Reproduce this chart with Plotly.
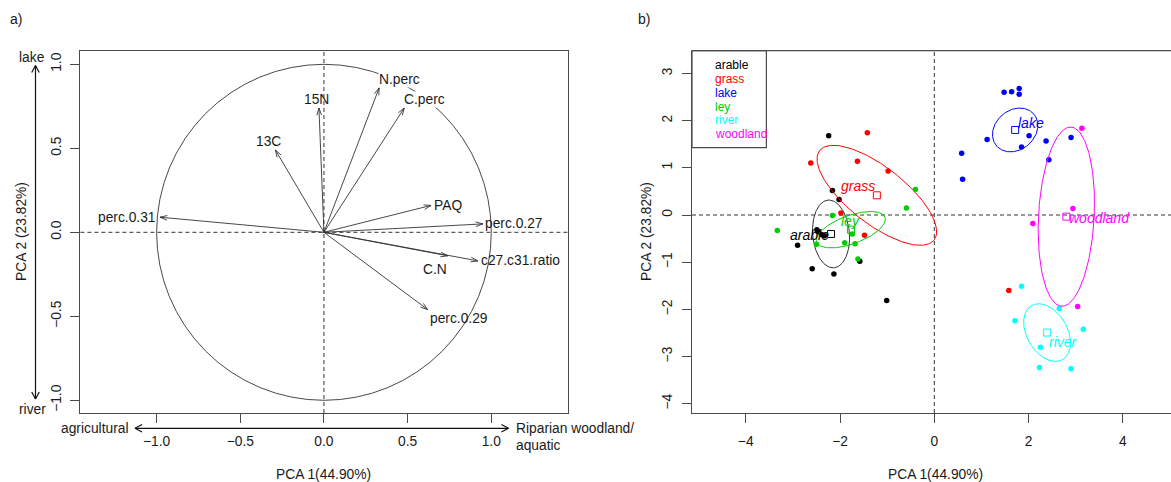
import numpy as np
import plotly.graph_objects as go

W, H = 1171, 482

# ---------------- panel a) : correlation circle ----------------
var_names = ["N.perc", "C.perc", "15N", "13C", "PAQ", "perc.0.27",
             "perc.0.31", "C.N", "c27.c31.ratio", "perc.0.29"]
var_pc1 = [0.33, 0.48, -0.03, -0.29, 0.64, 0.95, -0.98, 0.74, 0.92, 0.62]
var_pc2 = [0.86, 0.74, 0.74, 0.49, 0.16, 0.05, 0.09, -0.14, -0.17, -0.46]

# ---------------- panel b) : PCA scores by class ----------------
groups = ["arable", "grass", "lake", "ley", "river", "woodland"]
group_colors = ["#000000", "#FF0000", "#0000FF", "#00CD00", "#00FFFF", "#FF00FF"]

arable_x = [-2.24, -2.16, -2.02, -2.49, -2.45, -2.38, -2.33, -2.90, -1.58, -2.59, -2.13, -1.01]
arable_y = [1.68, 0.52, 0.33, -0.31, -0.36, -0.42, -0.44, -0.64, -0.98, -1.14, -1.25, -1.81]
grass_x = [-1.42, -2.62, -1.63, -0.98, -1.98, -1.48, 1.58]
grass_y = [1.74, 1.10, 1.14, 0.93, 0.04, -0.43, -1.60]
lake_x = [1.48, 1.64, 1.80, 1.80, 1.12, 2.01, 1.85, 2.37, 2.90, 2.43, 0.58, 0.60]
lake_y = [2.60, 2.61, 2.68, 2.56, 1.60, 1.68, 1.44, 1.57, 1.64, 1.17, 1.31, 0.76]
ley_x = [-0.40, -0.59, -2.16, -1.74, -3.33, -2.50, -1.90, -1.68, -1.62]
ley_y = [0.54, 0.15, -0.01, -0.40, -0.33, -0.62, -0.59, -0.61, -0.93]
river_x = [1.85, 2.65, 1.71, 3.16, 2.25, 2.23, 2.90]
river_y = [-1.51, -1.98, -2.24, -2.42, -2.80, -3.23, -3.26]
woodland_x = [3.13, 2.94, 2.09, 3.04]
woodland_y = [1.84, 0.14, -0.18, -1.94]

# ellipse semi-axes and orientation (degrees)
ell_a = [0.72, 1.54, 0.52, 0.77, 0.66, 1.90]
ell_b = [0.39, 0.60, 0.42, 0.30, 0.43, 0.59]
ell_angle = [95, -38, 40, 20, 120, 87]

group_x = [arable_x, grass_x, lake_x, ley_x, river_x, woodland_x]
group_y = [arable_y, grass_y, lake_y, ley_y, river_y, woodland_y]

x_ticks_a = [-1.0, -0.5, 0.0, 0.5, 1.0]
y_ticks_a = [-1.0, -0.5, 0.0, 0.5, 1.0]
x_ticks_b = [-4, -2, 0, 2, 4]
y_ticks_b = [-4, -3, -2, -1, 0, 1, 2, 3]

# ---------------- styling / layout helpers ----------------
FONT = "Liberation Sans, Arial, Helvetica, sans-serif"
FS = 13.8
AX = "#4a4a4a"
TXT = "#1a1a1a"


def pxx(x):
    return x / W


def pyy(y):
    return 1 - y / H


box_top, box_bot = 50.7, 413.0
dom_y = [pyy(box_bot), pyy(box_top)]
dom_xa = [pxx(80.4), pxx(567.5)]
dom_xb = [pxx(692.0), 1.0]

fig = go.Figure()

# ---- panel a: arrows ----
lx, ly = [], []
hx, hy = [], []
head = 0.045
ang = np.deg2rad(18)
for x1, y1 in zip(var_pc1, var_pc2):
    lx += [0, x1, None]
    ly += [0, y1, None]
    t = np.arctan2(y1, x1)
    for s in (1, -1):
        hx += [x1, x1 - head * np.cos(t + s * ang), None]
        hy += [y1, y1 - head * np.sin(t + s * ang), None]
fig.add_trace(go.Scatter(x=lx, y=ly, mode="lines", line=dict(color="#333333", width=0.9),
                         hoverinfo="skip", showlegend=False, xaxis="x", yaxis="y"))
fig.add_trace(go.Scatter(x=hx, y=hy, mode="lines", line=dict(color="#333333", width=0.9),
                         hoverinfo="skip", showlegend=False, xaxis="x", yaxis="y"))

# label anchors per variable (xanchor, yanchor, xshift, yshift, white background)
lab_style = {
    "N.perc": ("left", "bottom", -1, 0, True),
    "C.perc": ("left", "bottom", -1, 0, True),
    "15N": ("center", "bottom", -2, 0, False),
    "13C": ("center", "bottom", -7, 0, False),
    "PAQ": ("left", "middle", 2, 0, False),
    "perc.0.27": ("left", "middle", 1, 0, False),
    "perc.0.31": ("right", "middle", -3, 0, False),
    "C.N": ("right", "top", 0, -5, False),
    "c27.c31.ratio": ("left", "middle", 2, 0, False),
    "perc.0.29": ("left", "top", 1, 0, False),
}
annotations = []
for name, x1, y1 in zip(var_names, var_pc1, var_pc2):
    xa, ya, xs, ys, bg = lab_style[name]
    annotations.append(dict(x=x1, y=y1, xref="x", yref="y", text=name, showarrow=False,
                            xanchor=xa, yanchor=ya, xshift=xs, yshift=ys,
                            bgcolor="white" if bg else "rgba(0,0,0,0)", borderpad=0,
                            font=dict(family=FONT, size=FS, color=TXT)))

# ---- panel b: points, centres, ellipses ----
tt = np.linspace(0, 2 * np.pi, 200)
for g, col, xs_, ys_, a, b, an in zip(groups, group_colors, group_x, group_y, ell_a, ell_b, ell_angle):
    cx, cy = float(np.mean(xs_)), float(np.mean(ys_))
    th = np.deg2rad(an)
    ex = cx + a * np.cos(tt) * np.cos(th) - b * np.sin(tt) * np.sin(th)
    ey = cy + a * np.cos(tt) * np.sin(th) + b * np.sin(tt) * np.cos(th)
    ecol = "#333333" if col == "#000000" else col
    fig.add_trace(go.Scatter(x=ex, y=ey, mode="lines", line=dict(color=ecol, width=1),
                             hoverinfo="skip", showlegend=False, xaxis="x2", yaxis="y2"))
    fig.add_trace(go.Scatter(x=xs_, y=ys_, mode="markers", name=g,
                             marker=dict(color=col, size=5.5, line=dict(width=0)),
                             showlegend=False, xaxis="x2", yaxis="y2"))
    fig.add_trace(go.Scatter(x=[cx], y=[cy], mode="markers",
                             marker=dict(symbol="square-open", color=col, size=7, line=dict(width=1)),
                             showlegend=False, hoverinfo="skip", xaxis="x2", yaxis="y2"))

label_shift = {"arable": (-22, -1), "grass": (-19, 9), "lake": (16, 7),
               "ley": (0, 9), "river": (16, -9), "woodland": (33, -1)}
for g, col, xs_, ys_ in zip(groups, group_colors, group_x, group_y):
    cx, cy = float(np.mean(xs_)), float(np.mean(ys_))
    sx, sy = label_shift[g]
    annotations.append(dict(x=cx, y=cy, xref="x2", yref="y2", text="<i>%s</i>" % g,
                            showarrow=False, xshift=sx, yshift=sy,
                            font=dict(family=FONT, size=14, color=col)))

# legend (coloured text in a box)
leg_y = [65, 79, 92.7, 106.7, 120.3, 134.3]
for g, col, yy in zip(groups, group_colors, leg_y):
    annotations.append(dict(x=pxx(712.5), y=pyy(yy), xref="paper", yref="paper", text=g,
                            showarrow=False, xanchor="left", yanchor="middle",
                            font=dict(family=FONT, size=12, color=col)))

# ---- free texts ----
def txt(x, y, s, xa="center", ya="middle", angle=0, size=FS):
    annotations.append(dict(x=pxx(x), y=pyy(y), xref="paper", yref="paper", text=s,
                            showarrow=False, xanchor=xa, yanchor=ya, textangle=angle,
                            font=dict(family=FONT, size=size, color=TXT)))


txt(16, 19, "a)", size=14)
txt(644, 19, "b)", size=14)
txt(21, 232, "PCA 2 (23.82%)", angle=-90)
txt(646, 232, "PCA 2 (23.82%)", angle=-90)
txt(323.5, 474, "PCA 1(44.90%)")
txt(935, 474, "PCA 1(44.90%)")
txt(32, 57, "lake")
txt(32, 409.5, "river")
txt(130, 428, "agricultural", xa="right")
txt(514, 428, "Riparian woodland/", xa="left")
txt(514, 445, "aquatic", xa="left")

# ---- shapes ----
shapes = []
dash = "4px,3px"
# panel a
shapes.append(dict(type="circle", xref="x", yref="y", x0=-1, y0=-1, x1=1, y1=1,
                   line=dict(color="#333333", width=0.9), layer="below"))
shapes.append(dict(type="line", xref="x", yref="y domain", x0=0, x1=0, y0=0, y1=1,
                   line=dict(color="#333333", width=1, dash=dash), layer="below"))
shapes.append(dict(type="line", xref="x domain", yref="y", x0=0, x1=1, y0=0, y1=0,
                   line=dict(color="#333333", width=1, dash=dash), layer="below"))
# panel b
shapes.append(dict(type="line", xref="x2", yref="y2 domain", x0=0, x1=0, y0=0, y1=1,
                   line=dict(color="#333333", width=1, dash=dash), layer="below"))
shapes.append(dict(type="line", xref="x2 domain", yref="y2", x0=0, x1=1, y0=0, y1=0,
                   line=dict(color="#333333", width=1, dash=dash), layer="below"))
shapes.append(dict(type="line", xref="x2 domain", yref="y2 domain", x0=0, x1=1, y0=1, y1=1,
                   line=dict(color=AX, width=1.2)))
# legend box
shapes.append(dict(type="rect", xref="paper", yref="paper", x0=pxx(692), x1=pxx(766.4),
                   y0=pyy(147.7), y1=pyy(50.7), line=dict(color=AX, width=1.2)))


def arrow_px(x0, y0, x1, y1, both=True, hl=8, ha=28, width=1.2):
    segs = [(x0, y0, x1, y1)]
    ends = [(x1, y1, x0, y0)]
    if both:
        ends.append((x0, y0, x1, y1))
    for ex, ey, fx, fy in ends:
        t = np.arctan2(ey - fy, ex - fx)
        for s in (1, -1):
            a = t + s * np.deg2rad(ha)
            segs.append((ex, ey, ex - hl * np.cos(a), ey - hl * np.sin(a)))
    for a0, b0, a1, b1 in segs:
        shapes.append(dict(type="line", xref="paper", yref="paper",
                           x0=pxx(a0), y0=pyy(b0), x1=pxx(a1), y1=pyy(b1),
                           line=dict(color="#111111", width=width)))


arrow_px(35.5, 399, 35.5, 65.5)      # river <-> lake
arrow_px(135, 428.3, 508.5, 428.3)  # agricultural <-> riparian

axis_common = dict(showline=True, linecolor=AX, linewidth=1.2, ticks="outside", ticklen=9,
                   tickcolor=AX, tickwidth=1.2, showgrid=False, zeroline=False,
                   tickfont=dict(family=FONT, size=FS, color=TXT), fixedrange=True)

fig.update_layout(
    width=W, height=H, autosize=False,
    margin=dict(l=0, r=0, t=0, b=0),
    paper_bgcolor="white", plot_bgcolor="white",
    showlegend=False,
    xaxis=dict(domain=dom_xa, range=[-1.4555, 1.4555], anchor="y", mirror=True,
               tickvals=x_ticks_a, tickformat=".1f", ticklabelstandoff=6, **axis_common),
    yaxis=dict(domain=dom_y, range=[-1.0756, 1.081], anchor="x", mirror=True,
               tickvals=y_ticks_a, tickformat=".1f", tickangle=-90, ticklabelstandoff=4,
               **axis_common),
    xaxis2=dict(domain=dom_xb, range=[-5.139, 5.02], anchor="y2",
                tickvals=x_ticks_b, ticklabelstandoff=6, **axis_common),
    yaxis2=dict(domain=dom_y, range=[-4.195, 3.481], anchor="x2",
                tickvals=y_ticks_b, tickangle=-90, ticklabelstandoff=4, **axis_common),
    annotations=annotations,
    shapes=shapes,
)

fig.write_html("out.html", config={"displayModeBar": False},
               post_script="document.body.style.margin='0';document.body.style.overflow='hidden';")
